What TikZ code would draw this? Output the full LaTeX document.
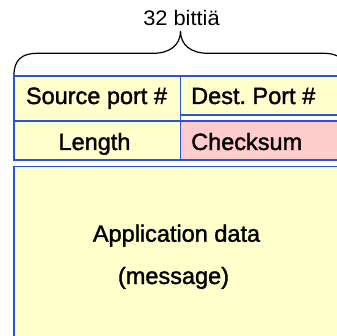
\documentclass[tikz,border=0pt]{standalone}
\usepackage{fontspec}
\setmainfont{Liberation Sans}
\newfontfamily\cellfont[FakeBold=1.5]{Liberation Sans}
\newfontfamily\bitsfont[FakeStretch=1.04]{Liberation Sans}
\definecolor{cellyellow}{HTML}{FFFFCC}
\definecolor{cellpink}{HTML}{FFCCCC}
\definecolor{cellblue}{HTML}{2A52DC}
\tikzset{
  cell/.style={draw=cellblue, line width=1.4pt, fill=cellyellow, rectangle, inner sep=0pt, outer sep=0pt, anchor=north west},
  celltext/.style={font=\cellfont\fontsize{23.5}{26}\selectfont, anchor=base, inner sep=0pt},
  celltextl/.style={font=\cellfont\fontsize{23.5}{26}\selectfont, anchor=base west, inner sep=0pt},
  bracetext/.style={font=\bitsfont\fontsize{21}{24}\selectfont, anchor=base, inner sep=0pt},
  bracestyle/.style={draw=black, line width=1.2pt}
}
\begin{document}
\begin{tikzpicture}[x=1pt,y=-1pt]
\useasboundingbox (0,0) rectangle (336,336);
\fill[white] (0,0) rectangle (336,336);
% cells
\node[cell, minimum width=166.7pt, minimum height=45pt] (src) at (14,76) {};
\node[cell, minimum width=166.3pt, minimum height=39pt] (dst) at (180.7,76) {};
\node[cell, minimum width=166.7pt, minimum height=39pt] (len) at (14,121) {};
\node[cell, fill=cellpink, minimum width=166.3pt, minimum height=39pt] (chk) at (180.7,121) {};
\node[cell, minimum width=333pt, minimum height=200pt] (app) at (14,166.7) {};
% texts
\node[celltext] (srct) at (96.5,104) {Source port \#};
\node[celltextl] (dstt) at (191,104) {Dest.\ Port \#};
\node[celltext] (lent) at (94.5,150) {Length};
\node[celltextl] (chkt) at (191,150) {Checksum};
\node[celltext] (appt1) at (176.5,241.7) {Application data};
\node[celltext] (appt2) at (173.5,284) {(message)};
% brace
\coordinate (bl) at (14,75);
\coordinate (br) at (347,75);
\coordinate (tip) at (180.5,31);
\draw[bracestyle] (bl) .. controls (14,60) and (22,53.3) .. (37,53.3)
  -- (153,53.3) .. controls (170,53.3) and (180.5,45) .. (tip)
  .. controls (180.5,45) and (191,53.3) .. (208,53.3)
  -- (324,53.3) .. controls (339,53.3) and (347,60) .. (br);
\node[bracetext] (bits) at (181.5,26) {32 bittiä};
\end{tikzpicture}
\end{document}
